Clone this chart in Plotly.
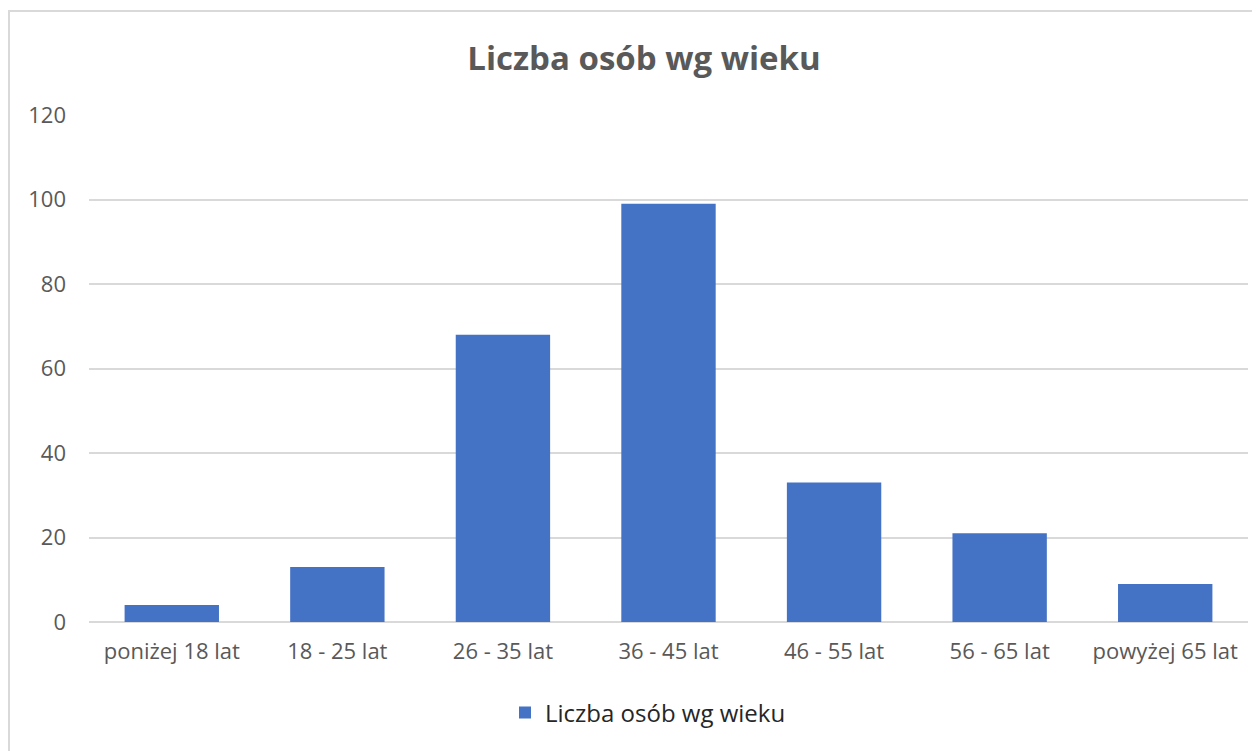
import plotly.graph_objects as go

categories = ["poniżej 18 lat", "18 - 25 lat", "26 - 35 lat", "36 - 45 lat",
              "46 - 55 lat", "56 - 65 lat", "powyżej 65 lat"]
values = [4, 13, 68, 99, 33, 21, 9]
series_name = "Liczba osób wg wieku"
title_text = "Liczba osób wg wieku"

OFF = 8  # page body margin
W, H = 1260 - OFF, 751 - OFF
L, R, T, B = 89 - OFF, 12, 115 - OFF, 129
pw, ph = W - L - R, H - T - B

def px_x(p):
    return (p - OFF - L) / pw

def px_y(p):
    return (H - B - (p - OFF)) / ph

FONT = "'Open Sans', Lato, sans-serif"

fig = go.Figure()
fig.add_trace(go.Bar(
    x=categories, y=values, name=series_name,
    marker=dict(color="#4472C4", line=dict(width=0)),
    showlegend=True,
))

fig.update_layout(
    width=W, height=H,
    margin=dict(l=L, r=R, t=T, b=B),
    paper_bgcolor="white", plot_bgcolor="white",
    font=dict(family=FONT, color="#595959", size=22),
    title=dict(text="<b>" + title_text + "</b>", x=px_x(644), xanchor="center",
               xref="paper",
               y=1 - (58 - OFF) / H, yanchor="middle",
               font=dict(size=33, color="#595959")),
    bargap=0.43,
    xaxis=dict(showgrid=False, showline=False, ticks="", ticklabelstandoff=14,
               tickfont=dict(size=22, color="#595959")),
    yaxis=dict(range=[0, 120], dtick=20, showgrid=True, gridcolor="#d9d9d9", gridwidth=1.5,
               zeroline=True, zerolinecolor="#d9d9d9", zerolinewidth=1.5,
               showline=False, ticks="", ticklen=0, ticklabelstandoff=22,
               tickfont=dict(size=22, color="#595959")),
    legend=dict(orientation="h", x=px_x(648), xanchor="center", y=px_y(713), yanchor="middle",
                font=dict(size=24, color="#262626")),
    shapes=[dict(type="rect", xref="paper", yref="paper",
                 x0=px_x(9), x1=px_x(1275), y0=px_y(770), y1=px_y(11),
                 line=dict(color="#d9d9d9", width=2), fillcolor="rgba(0,0,0,0)", layer="below")],
)

fig.write_html("out.html")
